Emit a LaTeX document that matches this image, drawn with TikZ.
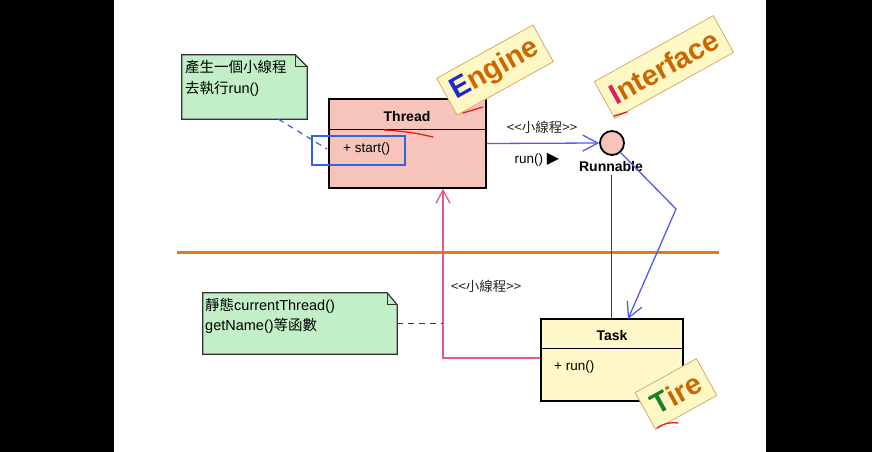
\documentclass[tikz,border=0pt]{standalone}
\usepackage{fontspec}
\setmainfont{Liberation Sans}
\newfontfamily\cjk{Noto Sans CJK TC}
\newfontfamily\dejavu{DejaVu Sans}
\usepackage{xcolor}
\usepackage{tikz}
\usetikzlibrary{arrows.meta,positioning,calc}

\definecolor{threadpink}{RGB}{246,196,186}
\definecolor{taskyellow}{RGB}{255,249,202}
\definecolor{notegreen}{RGB}{194,239,200}
\definecolor{tagfill}{RGB}{255,247,196}
\definecolor{tagedge}{RGB}{212,172,104}
\definecolor{tagtext}{RGB}{204,102,0}
\definecolor{engblue}{RGB}{30,40,210}
\definecolor{ifred}{RGB}{232,24,92}
\definecolor{tiregreen}{RGB}{20,130,32}
\definecolor{linkblue}{RGB}{84,92,240}
\definecolor{hlblue}{RGB}{50,100,225}
\definecolor{linkpink}{RGB}{228,92,130}
\definecolor{splitorange}{RGB}{222,122,36}
\definecolor{markred}{RGB}{235,30,30}

\begin{document}
\begin{tikzpicture}[x=1pt, y=-1pt,
  every node/.style={inner sep=0pt, font=\fontsize{13.5}{16}\selectfont},
  classbox/.style={draw=black, line width=1.8pt},
  classname/.style={font=\bfseries\fontsize{14}{16}\selectfont},
  member/.style={anchor=west, font=\fontsize{13.5}{16}\selectfont},
  stereo/.style={font=\cjk\fontsize{13.5}{16}\selectfont, text=black!85},
  notebox/.style={minimum width=#1},
  notetext/.style={anchor=west, align=left, font=\fontsize{14.5}{20.5}\selectfont},
  tagbox/.style={draw=tagedge, line width=0.8pt, fill=tagfill, rotate=29,
    minimum height=42, text=tagtext, font=\bfseries\fontsize{29}{30}\selectfont},
  bluelink/.style={draw=linkblue, line width=1.3pt},
  openhead/.style={-{Straight Barb[length=#1, width=16pt, line width=1.3pt]}},
  redmark/.style={draw=markred, line width=1.3pt, line cap=round}]

  \useasboundingbox (0,0) rectangle (872,452);
  % screen
  \fill[black] (0,0) rectangle (872,452);
  \fill[white] (114,0) rectangle (766,452);

  % notes
  \node[notebox=125, minimum height=64] (spawnnote) at (244.5,87) {};
  \filldraw[fill=notegreen, draw=black!80, line width=1.2pt]
    (spawnnote.north west) -- ($(spawnnote.north east)+(-12,0)$)
    -- ($(spawnnote.north east)+(0,12)$) -- (spawnnote.south east)
    -- (spawnnote.south west) -- cycle;
  \draw[black!80, line width=1pt] ($(spawnnote.north east)+(-12,0)$) -- ++(0,12) -- ++(12,0);
  \node[notetext] (spawntext) at (185,78.5) {{\cjk 產生一個小線程}\\{\cjk 去執行}run()};

  \node[notebox=194, minimum height=61] (staticnote) at (300,323.5) {};
  \filldraw[fill=notegreen, draw=black!80, line width=1.2pt]
    (staticnote.north west) -- ($(staticnote.north east)+(-10,0)$)
    -- ($(staticnote.north east)+(0,12)$) -- (staticnote.south east)
    -- (staticnote.south west) -- cycle;
  \draw[black!80, line width=1pt] ($(staticnote.north east)+(-10,0)$) -- ++(0,12) -- ++(10,0);
  \node[notetext] (statictext) at (205,316) {{\cjk 靜態}currentThread()\\getName(){\cjk 等函數}};

  % divider
  \draw[splitorange, line width=3pt] (177,252) -- (719,252);

  % Thread class
  \node[classbox, fill=threadpink, minimum width=157, minimum height=89] (thread) at (407.5,143.5) {};
  \draw[line width=1.2pt] ($(thread.north west)+(0,31)$) -- ($(thread.north east)+(0,31)$);
  \node[classname] (threadname) at (407,116) {Thread};
  \node[member] (startop) at (343,149) {+ start()};
  \node[draw=hlblue, line width=1.3pt, minimum width=93, minimum height=29] (highlight) at (358.5,150.5) {};

  % Task class
  \node[classbox, fill=taskyellow, minimum width=142, minimum height=82] (task) at (612,360) {};
  \draw[line width=1.2pt] ($(task.north west)+(0,30)$) -- ($(task.north east)+(0,30)$);
  \node[classname] (taskname) at (612,335) {Task};
  \node[member] (runop) at (554,367) {+ run()};

  % Runnable interface
  \node[circle, draw=black, line width=1.8pt, fill=threadpink, minimum size=24] (runnable) at (612,143) {};
  \node[classname] (runlabel) at (611,166) {Runnable};

  % links
  \coordinate (bend) at (676,209);
  \coordinate (taskin) at (628,319);
  \coordinate (threadin) at ($(thread.south)+(35.5,0)$);
  \draw[bluelink, openhead=15pt] (thread.east) -- (runnable.west);
  \node[stereo] (stereotop) at (542,127) {<<小線程>>};
  \node (runmsg) at (537,160) {run() {\dejavu\fontsize{16}{16}\selectfont ▶}};
  \draw[black!75, line width=1pt] ($(runlabel.south)+(0,4)$) -- (runlabel.south |- task.north);
  \draw[bluelink, openhead=15pt] (runnable.-48) -- (bend) -- (taskin);
  \draw[linkpink, line width=1.3pt, -{Straight Barb[length=13pt, width=14pt, line width=1.3pt]}]
    ($(task.north west)+(0,40)$) -| (threadin);
  \node[stereo] (stereobot) at (486,286) {<<小線程>>};
  \draw[black!80, line width=1.3pt, dash pattern=on 6pt off 5pt] (staticnote.east) -- (staticnote.east -| threadin);
  \draw[hlblue, line width=1.2pt, dash pattern=on 6pt off 5pt]
    ($(spawnnote.south)+(34,0)$) -- ($(startop.west)+(-16,0)$);

  % tags
  \node[tagbox, minimum width=110] (enginetag) at (495,70) {\textcolor{engblue}{E}ngine};
  \node[tagbox, minimum width=136] (interfacetag) at (664,67) {\textcolor{ifred}{I}nterface};
  \node[tagbox, minimum width=70] (tiretag) at (676,394) {\textcolor{tiregreen}{T}ire};

  % red marks
  \draw[redmark] (384,130) to[bend left=5] (433,137);
  \draw[redmark] (463,113) -- (483,107);
  \draw[redmark] (614,116) -- (627,112);
  \draw[redmark] (657,428) to[bend left=20] (678,423);
\end{tikzpicture}
\end{document}
